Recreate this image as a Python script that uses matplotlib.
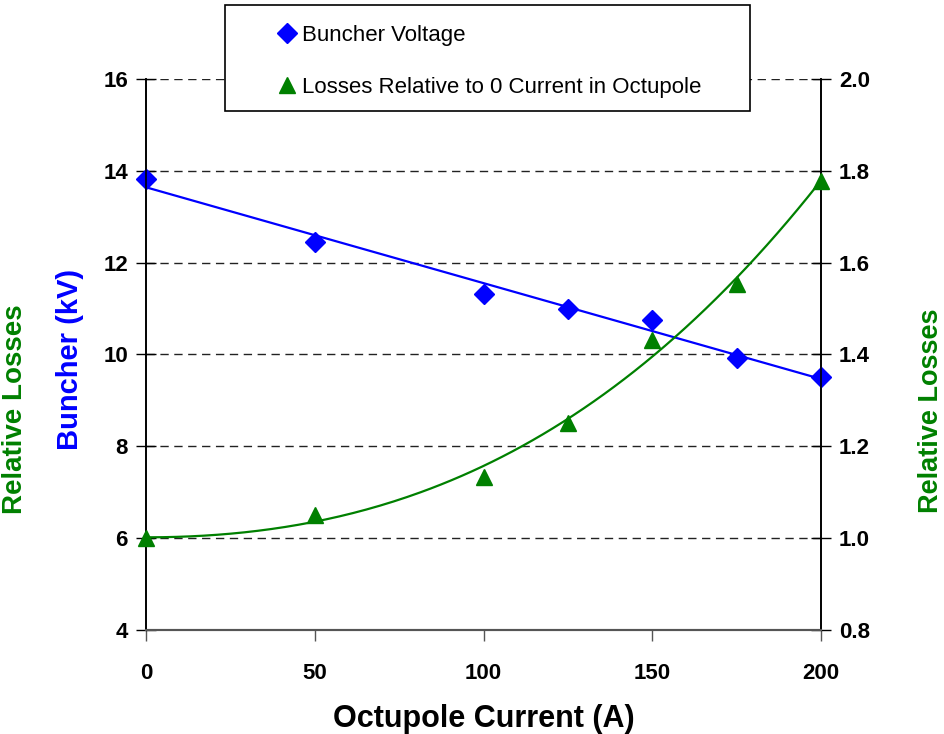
import numpy as np
import matplotlib
matplotlib.use("Agg")
import matplotlib.pyplot as plt
from matplotlib.lines import Line2D
from matplotlib.patches import Rectangle

plt.rcParams['font.family'] = ['Liberation Sans', 'DejaVu Sans']

# data
current = [0, 50, 100, 125, 150, 175, 200]
buncher_kv = [13.83, 12.45, 11.32, 11.0, 10.75, 9.92, 9.52]
rel_losses = [1.0, 1.05, 1.133, 1.25, 1.432, 1.553, 1.778]

x_ticks = [0, 50, 100, 150, 200]
left_ticks = [4, 6, 8, 10, 12, 14, 16]
right_ticks = [0.8, 1.0, 1.2, 1.4, 1.6, 1.8, 2.0]

blue = '#0000ff'
green = '#008000'

fig = plt.figure(figsize=(9.45, 7.34), dpi=100)
ax = fig.add_axes([0.1545, 0.1417, 0.7143, 0.7507])
ax2 = ax.twinx()

# trendlines: linear for buncher, polynomial (no linear term) for losses
xx = np.linspace(0, 200, 200)
lin = np.polyfit(current, buncher_kv, 1)
ax.plot(xx, np.polyval(lin, xx), color=blue, lw=1.6, zorder=3)
ax.plot(current, buncher_kv, 'D', color=blue, ms=10, zorder=4, clip_on=False)

xc = np.array(current, dtype=float)
A = np.column_stack([np.ones_like(xc), xc**2, xc**3])
coef = np.linalg.lstsq(A, np.array(rel_losses), rcond=None)[0]
fit = coef[0] + coef[1]*xx**2 + coef[2]*xx**3
ax2.plot(xx, fit, color=green, lw=1.6, zorder=3)
ax2.plot(current, rel_losses, '^', color=green, ms=12, zorder=4, clip_on=False)

ax.set_xlim(0, 200)
ax.set_ylim(4, 16)
ax2.set_ylim(0.8, 2.0)
ax.set_xticks(x_ticks)
ax.set_yticks(left_ticks)
ax2.set_yticks(right_ticks)
ax2.set_yticklabels(['%.1f' % v for v in right_ticks])

for v in left_ticks[1:]:
    ax.axhline(v, color='#222222', lw=1, ls=(0, (6, 4)), zorder=1)

for a in (ax, ax2):
    a.spines['top'].set_visible(False)
    a.spines['left'].set_linewidth(1.2)
    a.spines['right'].set_linewidth(1.2)
    a.spines['bottom'].set_color('#555555')
    a.spines['bottom'].set_linewidth(1.5)
ax.tick_params(axis='y', direction='inout', length=14, width=1, labelsize=16, pad=6)
ax2.tick_params(axis='y', direction='inout', length=14, width=1, labelsize=16, pad=6)
ax.tick_params(axis='x', direction='out', length=8, width=1, labelsize=16, pad=16, color='#555555')
for lab in ax.get_xticklabels() + ax.get_yticklabels() + ax2.get_yticklabels():
    lab.set_fontweight('bold')

ax.set_xlabel('Octupole Current (A)', fontsize=22, fontweight='bold', labelpad=14)
fig.text(0.074, 0.51, 'Buncher (kV)', rotation=90, color=blue, fontsize=21,
         fontweight='bold', ha='center', va='center')
fig.text(0.016, 0.443, 'Relative Losses', rotation=90, color=green, fontsize=20,
         fontweight='bold', ha='center', va='center')
fig.text(0.985, 0.44, 'Relative Losses', rotation=90, color=green, fontsize=19.5,
         fontweight='bold', ha='center', va='center')

# legend box
fig.patches.append(Rectangle((0.2381, 0.8488), 0.5556, 0.1444, transform=fig.transFigure,
                             facecolor='white', edgecolor='black', lw=1.2, zorder=9))
handles = [Line2D([], [], ls='none', marker='D', color=blue, ms=10),
           Line2D([], [], ls='none', marker='^', color=green, ms=12)]
leg = fig.legend(handles, ['Buncher Voltage', 'Losses Relative to 0 Current in Octupole'],
                 loc='upper left', bbox_to_anchor=(0.2942, 0.9665), fontsize=16,
                 frameon=False, labelspacing=1.42, handletextpad=0.28,
                 borderpad=0, borderaxespad=0, handlelength=0.8)
leg.set_zorder(10)

fig.savefig('out.png', dpi=100)
